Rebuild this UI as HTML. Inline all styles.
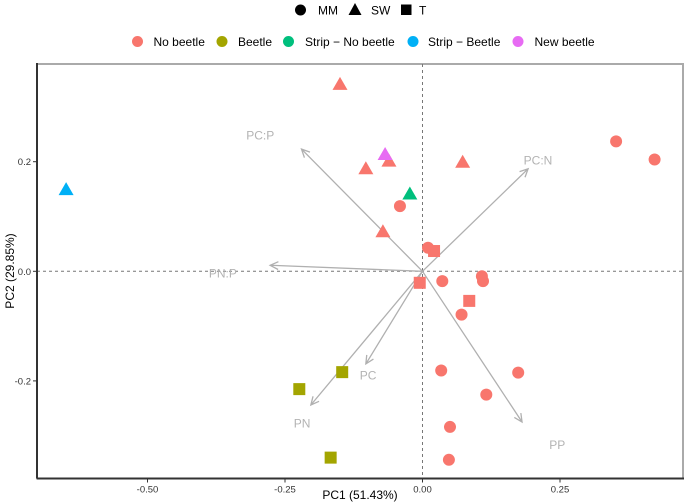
<!DOCTYPE html>
<html><head><meta charset="utf-8"><style>
body{margin:0;background:#fff}
svg{display:block;font-family:"Liberation Sans",Arial,sans-serif}
</style></head><body>
<svg id="chart" width="685" height="504" viewBox="0 0 685 504" xmlns="http://www.w3.org/2000/svg">
<g font-size="12" fill="#000">
  <circle cx="300.5" cy="10" r="5.5"/>
  <text x="318" y="14.5">MM</text>
  <polygon points="355,3 361.5,15 348.5,15"/>
  <text x="371" y="14.5">SW</text>
  <rect x="401" y="4.5" width="10.5" height="10.5"/>
  <text x="419" y="14.5">T</text>
</g>
<g font-size="12" fill="#000">
  <circle cx="137.5" cy="41.5" r="5.5" fill="#F8766D"/>
  <text x="153.5" y="46">No beetle</text>
  <circle cx="222" cy="41.5" r="5.5" fill="#A3A500"/>
  <text x="238" y="46">Beetle</text>
  <circle cx="288.5" cy="41.5" r="5.5" fill="#00BF7D"/>
  <text x="305" y="46">Strip − No beetle</text>
  <circle cx="413" cy="41.5" r="5.5" fill="#00B0F6"/>
  <text x="428" y="46">Strip − Beetle</text>
  <circle cx="518" cy="41.5" r="5.5" fill="#E76BF3"/>
  <text x="534.5" y="46">New beetle</text>
</g>
<g id="plot"></g>
</svg>
<script>
// Data arrays
const xTicks = [-0.5, -0.25, 0, 0.25];
const xTickLabels = ["-0.50", "-0.25", "0.00", "0.25"];
const yTicks = [-0.2, 0, 0.2];
const yTickLabels = ["-0.2", "0.0", "0.2"];
const groups = ["No beetle","Beetle","Strip - No beetle","Strip - Beetle","New beetle"];
const groupColors = ["#F8766D","#A3A500","#00BF7D","#00B0F6","#E76BF3"];
const ptX = [0.352,0.422,-0.041,0.010,0.036,0.108,0.110,0.071,0.034,0.174,0.116,0.050,0.048,
  -0.150,-0.103,-0.061,0.073,-0.072,-0.068,-0.023,-0.648,
  0.021,-0.005,0.085,-0.224,-0.146,-0.167];
const ptY = [0.237,0.204,0.119,0.043,-0.018,-0.009,-0.018,-0.079,-0.181,-0.185,-0.225,-0.284,-0.344,
  0.342,0.188,0.202,0.200,0.073,0.214,0.142,0.150,
  0.037,-0.021,-0.054,-0.215,-0.184,-0.340];
const ptShape = ["MM","MM","MM","MM","MM","MM","MM","MM","MM","MM","MM","MM","MM",
  "SW","SW","SW","SW","SW","SW","SW","SW",
  "T","T","T","T","T","T"];
const ptGroup = [0,0,0,0,0,0,0,0,0,0,0,0,0, 0,0,0,0,0,4,2,3, 0,0,0,1,1,1];
const arrowNames = ["PC:P","PC:N","PN:P","PC","PN","PP"];
const arrowX = [-0.220,0.192,-0.277,-0.103,-0.203,0.181];
const arrowY = [0.223,0.187,0.011,-0.169,-0.244,-0.275];
const labelX = [-0.295,0.210,-0.363,-0.099,-0.219,0.245];
const labelY = [0.249,0.203,-0.003,-0.189,-0.277,-0.316];

const L=37, R=683, T=64, B=478.5;
const x = v => 422.5 + v*550;
const y = v => 271.3 - v*548;
const NS="http://www.w3.org/2000/svg";
const plot=document.getElementById('plot');
function mk(tag, attrs){const e=document.createElementNS(NS,tag);for(const k in attrs)e.setAttribute(k,attrs[k]);plot.appendChild(e);return e;}

let e;
e=mk('rect',{x:L,y:T,width:R-L,height:B-T,fill:'#fff',stroke:'#aaa','stroke-width':2});


e=mk('line',{x1:L,x2:R,y1:y(0),y2:y(0),stroke:'#777','stroke-dasharray':'3,3','stroke-width':1});


e=mk('line',{x1:x(0),x2:x(0),y1:T,y2:B,stroke:'#777','stroke-dasharray':'3,3','stroke-width':1});



// arrows
arrowNames.forEach((n,i)=>{
  const x2=x(arrowX[i]), y2=y(arrowY[i]), x1=x(0), y1=y(0);
  const a=Math.atan2(y2-y1,x2-x1), h=9, s=0.45;
  const g=mk('path',{d:`M${x1},${y1}L${x2},${y2}M${x2-h*Math.cos(a-s)},${y2-h*Math.sin(a-s)}L${x2},${y2}L${x2-h*Math.cos(a+s)},${y2-h*Math.sin(a+s)}`,stroke:'#b0b0b0','stroke-width':1.3,fill:'none'});
  
  
  const t=mk('text',{x:x(labelX[i]),y:y(labelY[i])+4.5,'text-anchor':'middle','font-size':12,fill:'#b3b3b3'});
  t.textContent=n;
  
  
});

// points
ptX.forEach((v,i)=>{
  const cx=x(v), cy=y(ptY[i]), c=groupColors[ptGroup[i]];
  let p;
  if(ptShape[i]==="MM") p=mk('circle',{cx:cx,cy:cy,r:6,fill:c});
  else if(ptShape[i]==="SW") p=mk('polygon',{points:`${cx},${cy-7} ${cx+7.5},${cy+6} ${cx-7.5},${cy+6}`,fill:c});
  else p=mk('rect',{x:cx-6,y:cy-6,width:12,height:12,fill:c});
  
  
});

// axes
e=mk('line',{x1:L,x2:L,y1:T-1,y2:B,stroke:'#333','stroke-width':2});


e=mk('line',{x1:L,x2:R+1,y1:B,y2:B,stroke:'#333','stroke-width':2});


xTicks.forEach((v,i)=>{
  const tk=mk('line',{x1:x(v),x2:x(v),y1:B,y2:B+4,stroke:'#333'});
  
  
  const t=mk('text',{x:x(v),y:B+14,'text-anchor':'middle','font-size':9.5,fill:'#333'});
  t.textContent=xTickLabels[i];
  
  
});
yTicks.forEach((v,i)=>{
  const tk=mk('line',{x1:L-4,x2:L,y1:y(v),y2:y(v),stroke:'#333'});
  
  
  const t=mk('text',{x:L-6,y:y(v)+3.5,'text-anchor':'end','font-size':9.5,fill:'#333'});
  t.textContent=yTickLabels[i];
  
  
});
e=mk('text',{x:360,y:499,'text-anchor':'middle','font-size':12,fill:'#000'});
e.textContent='PC1 (51.43%)';


e=mk('text',{x:0,y:0,'text-anchor':'middle','font-size':12,fill:'#000',transform:'translate(14,271) rotate(-90)'});
e.textContent='PC2 (29.85%)';


</script>
</body></html>
